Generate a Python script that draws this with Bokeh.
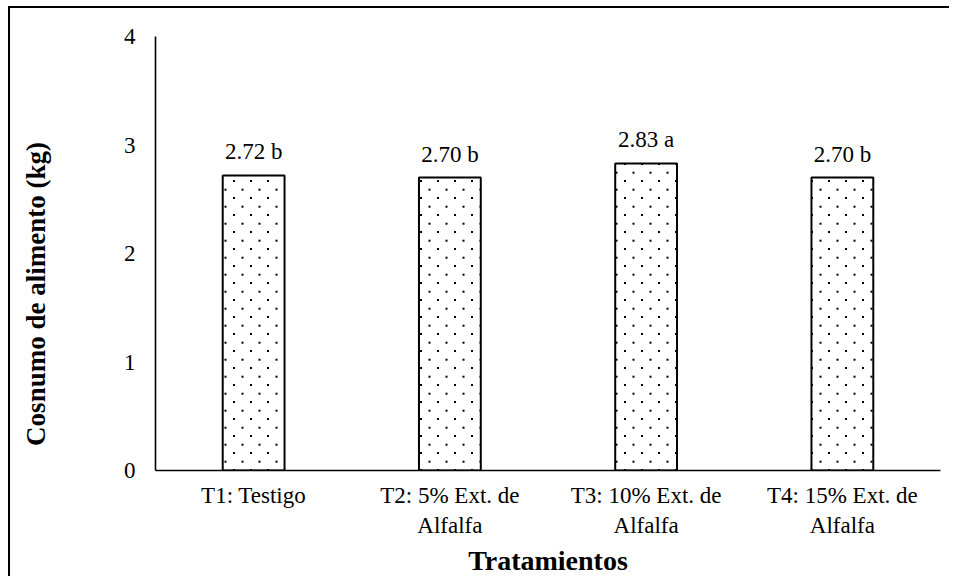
import base64
from bokeh.plotting import figure
from bokeh.models import FactorRange, Range1d, LabelSet, ColumnDataSource, FixedTicker, ImageURLTexture
from bokeh.core.properties import value
from bokeh.embed import file_html
from bokeh.resources import INLINE

# ---- data ----
categories = ["T1: Testigo", "T2: 5% Ext. de\nAlfalfa", "T3: 10% Ext. de\nAlfalfa", "T4: 15% Ext. de\nAlfalfa"]
values = [2.72, 2.70, 2.83, 2.70]
letters = ["b", "b", "a", "b"]
y_ticks = [0, 1, 2, 3, 4]
y_title = "Cosnumo de alimento (kg)"
x_title = "Tratamientos"

FONT = "Liberation Serif"

bar_labels = [f"{v:.2f} {l}" for v, l in zip(values, letters)]
src = ColumnDataSource(dict(cat=categories, val=values, lab=bar_labels))

# dotted fill texture (staggered dots)
tile = ('<svg xmlns="http://www.w3.org/2000/svg" width="17" height="17">'
        '<rect x="2" y="2" width="2" height="2" fill="#000"/>'
        '<rect x="10.5" y="10.7" width="2" height="2" fill="#000"/></svg>')
tile_url = "data:image/svg+xml;base64," + base64.b64encode(tile.encode()).decode()

p = figure(
    x_range=FactorRange(*categories), y_range=Range1d(0, 4),
    width=941, height=570, output_backend="svg", toolbar_location=None,
    min_border_left=145, min_border_right=11, min_border_top=28, min_border_bottom=108,
    background_fill_color="white", border_fill_color="white",
)
p.styles = {"border-left": "2px solid #000", "border-top": "2px solid #000",
            "margin-left": "8px", "margin-top": "6px"}
p.outline_line_color = None
p.grid.visible = False

p.vbar(x="cat", top="val", width=0.315, source=src,
       fill_color="white", line_color="black", line_width=2,
       hatch_pattern=value("dots"),
       hatch_extra={"dots": ImageURLTexture(url=tile_url, repetition="repeat")})

p.add_layout(LabelSet(x="cat", y="val", text="lab", source=src, y_offset=16,
                      text_align="center", text_baseline="alphabetic",
                      text_font=value(FONT), text_font_size=value("23px"), text_color="black"))

# axes
for ax in (p.xaxis[0], p.yaxis[0]):
    ax.axis_line_color = "black"
    ax.axis_line_width = 1.6
    ax.major_tick_line_color = None
    ax.minor_tick_line_color = None
    ax.major_tick_out = 0
    ax.major_tick_in = 0
    ax.major_label_text_font = FONT
    ax.major_label_text_font_size = "23px"
    ax.major_label_text_color = "black"
    ax.axis_label_text_font = FONT
    ax.axis_label_text_font_style = "bold"
    ax.axis_label_text_color = "black"

p.yaxis[0].ticker = FixedTicker(ticks=y_ticks)
p.yaxis[0].major_label_standoff = 20
# trailing no-break spaces shift the centred title down like the reference
p.yaxis[0].axis_label = y_title + "\u00a0" * 12
p.yaxis[0].axis_label_text_font_size = "27px"
p.yaxis[0].axis_label_standoff = 70

p.xaxis[0].major_label_standoff = 12
p.xaxis[0].axis_label = x_title
p.xaxis[0].axis_label_text_font_size = "28px"
p.xaxis[0].axis_label_standoff = 4

open("out.html", "w").write(file_html(p, INLINE))
